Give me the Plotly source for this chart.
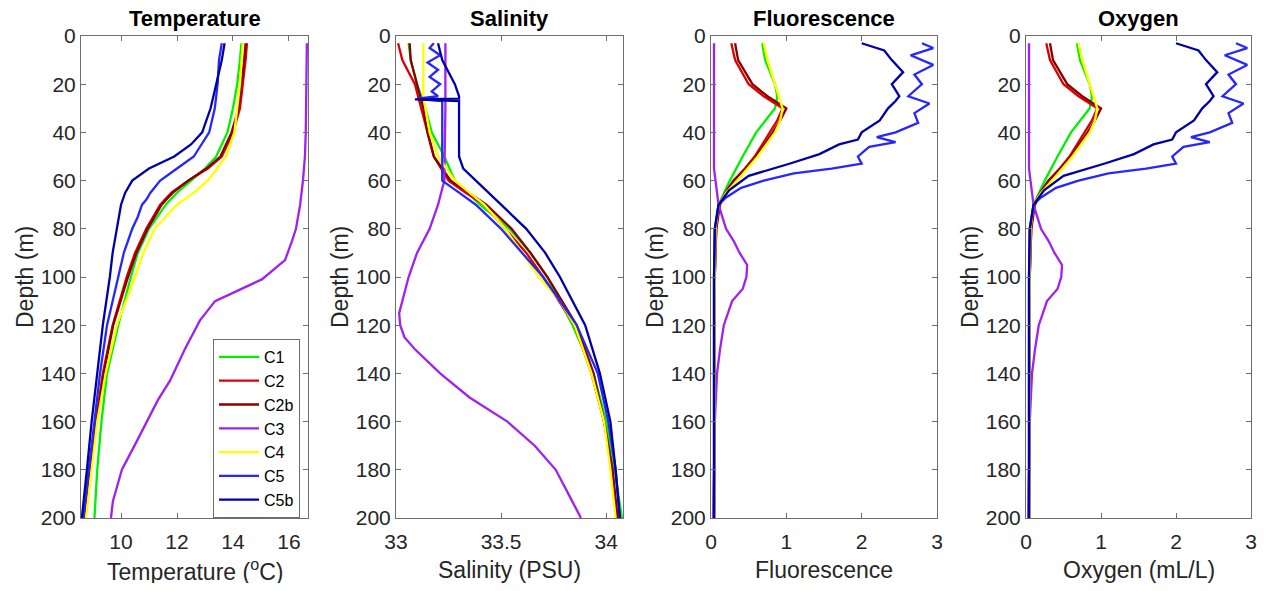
import plotly.graph_objects as go

# ---------------- data ----------------
stations = ["C1", "C2", "C2b", "C3", "C4", "C5", "C5b"]
colors = {"C1": "#00F000", "C2": "#DD0000", "C2b": "#8A0000", "C3": "#A020F0",
          "C4": "#FFFF00", "C5": "#2626FF", "C5b": "#0000A8"}

# Temperature (deg C) profiles: depth list and value list per station
temp_depth = {
    "C1":  [3, 10, 20, 30, 40, 50, 55, 60, 65, 70, 80, 90, 100, 120, 140, 160, 180, 200],
    "C2":  [3, 10, 20, 30, 40, 50, 55, 60, 65, 70, 80, 90, 100, 110, 120, 140, 160, 180, 200],
    "C2b": [3, 10, 20, 30, 40, 50, 55, 60, 65, 70, 80, 90, 100, 110, 120, 140, 160, 180, 200],
    "C3":  [3, 20, 40, 50, 60, 70, 80, 85, 93, 101, 106, 110, 118, 130, 143, 151, 168, 180, 193, 200],
    "C4":  [3, 20, 40, 50, 60, 65, 70, 80, 90, 100, 120, 140, 160, 180, 200],
    "C5":  [3, 10, 20, 30, 40, 50, 55, 60, 65, 68, 70, 75, 80, 90, 100, 120, 140, 160, 180, 200],
    "C5b": [3, 10, 20, 30, 40, 45, 50, 55, 60, 65, 70, 80, 90, 100, 120, 140, 160, 180, 200],
}
temp_vals = {
    "C1":  [14.30, 14.25, 14.15, 14.00, 13.80, 13.40, 13.00, 12.50, 12.00, 11.60, 11.00, 10.60, 10.35, 9.90, 9.50, 9.30, 9.15, 9.05],
    "C2":  [14.50, 14.45, 14.35, 14.25, 14.00, 13.60, 13.10, 12.40, 11.80, 11.40, 10.90, 10.50, 10.20, 9.95, 9.70, 9.35, 9.10, 8.85, 8.65],
    "C2b": [14.45, 14.40, 14.30, 14.20, 13.95, 13.55, 13.05, 12.40, 11.85, 11.45, 10.95, 10.55, 10.25, 9.98, 9.72, 9.38, 9.12, 8.88, 8.68],
    "C3":  [16.64, 16.63, 16.60, 16.57, 16.50, 16.40, 16.25, 16.11, 15.86, 15.03, 14.10, 13.36, 12.82, 12.28, 11.75, 11.32, 10.57, 10.03, 9.71, 9.64],
    "C4":  [14.35, 14.25, 14.05, 13.75, 13.10, 12.60, 12.00, 11.20, 10.80, 10.50, 9.85, 9.45, 9.15, 8.95, 8.75],
    "C5":  [13.60, 13.50, 13.45, 13.35, 13.15, 12.60, 12.00, 11.40, 11.05, 10.90, 10.75, 10.60, 10.40, 10.10, 9.90, 9.50, 9.25, 9.05, 8.85, 8.65],
    "C5b": [13.70, 13.60, 13.40, 13.20, 12.90, 12.50, 11.90, 11.00, 10.40, 10.15, 10.00, 9.85, 9.70, 9.60, 9.35, 9.15, 8.95, 8.78, 8.60],
}

# Salinity (PSU)
sal_depth = {
    "C1":  [3, 10, 20, 30, 40, 50, 60, 70, 80, 90, 100, 120, 130, 140, 160, 180, 200],
    "C2":  [3, 10, 20, 30, 40, 50, 60, 65, 70, 80, 90, 100, 120, 140, 160, 180, 200],
    "C2b": [3, 10, 20, 30, 40, 50, 60, 70, 80, 90, 100, 120, 140, 160, 180, 200],
    "C3":  [3, 30, 60, 70, 80, 90, 100, 110, 115, 120, 125, 130, 140, 150, 160, 170, 180, 190, 200],
    "C4":  [3, 25, 30, 40, 50, 60, 70, 80, 90, 100, 110, 120, 140, 160, 180, 200],
    "C5":  [3, 5, 8, 11, 14, 17, 20, 23, 25, 26, 27, 40, 60, 65, 70, 80, 90, 100, 120, 140, 160, 180, 200],
    "C5b": [3, 10, 20, 25, 26, 26.3, 27, 30, 50, 55, 60, 70, 80, 90, 100, 120, 140, 160, 180, 200],
}
sal_vals = {
    "C1":  [33.06, 33.07, 33.10, 33.14, 33.17, 33.23, 33.28, 33.40, 33.54, 33.64, 33.72, 33.84, 33.89, 33.94, 34.00, 34.04, 34.075],
    "C2":  [33.01, 33.03, 33.09, 33.12, 33.15, 33.18, 33.25, 33.33, 33.42, 33.52, 33.62, 33.70, 33.85, 33.93, 33.99, 34.03, 34.05],
    "C2b": [33.065, 33.07, 33.10, 33.13, 33.15, 33.18, 33.26, 33.43, 33.55, 33.64, 33.72, 33.86, 33.94, 33.99, 34.03, 34.055],
    "C3":  [33.235, 33.235, 33.23, 33.20, 33.16, 33.10, 33.06, 33.03, 33.015, 33.02, 33.04, 33.09, 33.21, 33.35, 33.53, 33.66, 33.76, 33.82, 33.88],
    "C4":  [33.13, 33.13, 33.14, 33.16, 33.20, 33.28, 33.42, 33.52, 33.60, 33.68, 33.78, 33.85, 33.93, 33.99, 34.02, 34.045],
    "C5":  [33.18, 33.16, 33.21, 33.15, 33.20, 33.16, 33.21, 33.17, 33.20, 33.10, 33.22, 33.22, 33.22, 33.30, 33.38, 33.50, 33.60, 33.70, 33.86, 33.96, 34.01, 34.045, 34.065],
    "C5b": [33.20, 33.22, 33.28, 33.30, 33.30, 33.09, 33.30, 33.30, 33.30, 33.32, 33.38, 33.50, 33.62, 33.71, 33.78, 33.90, 33.97, 34.02, 34.045, 34.065],
}

# Fluorescence
fl_depth = {
    "C1":  [3, 10, 20, 25, 30, 35, 40, 50, 60, 70, 80, 100, 200],
    "C2":  [3, 10, 20, 25, 30, 35, 40, 50, 55, 60, 65, 70, 80, 100, 200],
    "C2b": [3, 10, 20, 25, 30, 35, 40, 50, 55, 60, 65, 70, 80, 100, 200],
    "C3":  [3, 55, 60, 70, 80, 85, 90, 95, 100, 105, 110, 120, 130, 140, 160, 200],
    "C4":  [3, 10, 20, 30, 35, 40, 50, 60, 65, 70, 80, 100, 200],
    "C5":  [3, 5, 8, 12, 16, 20, 25, 28, 32, 36, 40, 42, 44, 46, 50, 53, 55, 57, 60, 63, 67, 70, 80, 100, 200],
    "C5b": [3, 6, 10, 15, 20, 25, 27, 30, 35, 40, 43, 45, 49, 53, 58, 64, 70, 80, 100, 200],
}
fl_vals = {
    "C1":  [0.68, 0.72, 0.85, 0.88, 0.85, 0.72, 0.60, 0.42, 0.25, 0.10, 0.06, 0.05, 0.04],
    "C2":  [0.27, 0.32, 0.50, 0.70, 0.95, 0.88, 0.78, 0.58, 0.45, 0.30, 0.20, 0.12, 0.07, 0.05, 0.04],
    "C2b": [0.32, 0.36, 0.55, 0.75, 1.00, 0.92, 0.82, 0.60, 0.46, 0.30, 0.19, 0.11, 0.07, 0.05, 0.04],
    "C3":  [0.04, 0.04, 0.06, 0.10, 0.20, 0.30, 0.38, 0.48, 0.47, 0.42, 0.28, 0.17, 0.12, 0.08, 0.05, 0.03],
    "C4":  [0.70, 0.75, 0.85, 0.95, 0.92, 0.85, 0.62, 0.35, 0.20, 0.10, 0.06, 0.05, 0.04],
    "C5":  [2.80, 2.95, 2.65, 2.95, 2.70, 2.80, 2.62, 2.90, 2.70, 2.75, 2.45, 2.20, 2.45, 2.10, 1.95, 2.00, 1.60, 1.10, 0.70, 0.40, 0.20, 0.10, 0.05, 0.04, 0.04],
    "C5b": [2.00, 2.30, 2.40, 2.55, 2.40, 2.50, 2.45, 2.35, 2.24, 2.00, 1.95, 1.70, 1.44, 1.04, 0.50, 0.24, 0.10, 0.05, 0.04, 0.04],
}

# Oxygen (mL/L) -- the reference panel shows the same profiles
ox_depth = {k: list(v) for k, v in fl_depth.items()}
ox_vals = {k: list(v) for k, v in fl_vals.items()}

panels = [
    ("Temperature", "Temperature (<sup>o</sup>C)", temp_depth, temp_vals, [8.57, 16.68], [10, 12, 14, 16], ["10", "12", "14", "16"]),
    ("Salinity", "Salinity (PSU)", sal_depth, sal_vals, [33.0, 34.08], [33, 33.5, 34], ["33", "33.5", "34"]),
    ("Fluorescence", "Fluorescence", fl_depth, fl_vals, [0, 3], [0, 1, 2, 3], ["0", "1", "2", "3"]),
    ("Oxygen", "Oxygen (mL/L)", ox_depth, ox_vals, [0, 3], [0, 1, 2, 3], ["0", "1", "2", "3"]),
]
depth_ticks = [0, 20, 40, 60, 80, 100, 120, 140, 160, 180, 200]

# ---------------- layout geometry ----------------
# the page adds an 8 px body margin, so positions are given in page pixels minus OFF
OFF = 8
W, H = 1265 - 2 * OFF, 591 - 2 * OFF
x_px = [(81, 308), (396, 623), (711, 937), (1026, 1251)]
y_top, y_bot = 36, 518
FONT = "Liberation Sans, Arial, sans-serif"
TXT = "#262626"
AX = "#6e6e6e"


def px(xp):
    return (xp - OFF) / W


def py(yp):
    return 1 - (yp - OFF) / H


fig = go.Figure()
annotations = []
for i, (title, xlabel, dep, val, xr, xt, xtl) in enumerate(panels):
    n = "" if i == 0 else str(i + 1)
    for s in stations:
        fig.add_trace(go.Scatter(
            x=val[s], y=dep[s], mode="lines", name=s,
            line=dict(color=colors[s], width=2.3),
            xaxis="x" + n, yaxis="y" + n,
            showlegend=(i == 0),
        ))
    dom = [px(x_px[i][0]), px(x_px[i][1])]
    axcommon = dict(showgrid=False, zeroline=False, showline=True, mirror="ticks",
                    linecolor=AX, linewidth=1, ticks="inside", ticklen=5,
                    tickcolor=AX, automargin=False,
                    tickfont=dict(family=FONT, size=21, color=TXT))
    fig.update_layout(**{
        "xaxis" + n: dict(domain=dom, range=xr, tickvals=xt, ticktext=xtl,
                          anchor="y" + n, ticklabelstandoff=5, **axcommon),
        "yaxis" + n: dict(domain=[py(y_bot), py(y_top)], range=[200, 0],
                          tickvals=depth_ticks, anchor="x" + n, **axcommon),
    })
    cx = (dom[0] + dom[1]) / 2
    annotations.append(dict(text="<b>%s</b>" % title, x=cx, y=py(19), xref="paper", yref="paper",
                            xanchor="center", yanchor="middle", showarrow=False,
                            font=dict(family=FONT, size=22, color="#000000")))
    annotations.append(dict(text=xlabel, x=cx, y=py(570), xref="paper", yref="paper",
                            xanchor="center", yanchor="middle", showarrow=False,
                            font=dict(family=FONT, size=23, color=TXT)))
    annotations.append(dict(text="Depth (m)", x=px(x_px[i][0] - 56), y=py(277),
                            xref="paper", yref="paper", xanchor="center", yanchor="middle",
                            textangle=-90, showarrow=False,
                            font=dict(family=FONT, size=23, color=TXT)))

fig.update_layout(
    template="none",
    width=W, height=H,
    margin=dict(l=0, r=0, t=0, b=0, pad=0, autoexpand=False),
    paper_bgcolor="white", plot_bgcolor="white",
    annotations=annotations,
    showlegend=True,
    legend=dict(x=px(213), y=py(339), xanchor="left", yanchor="top",
                bgcolor="white", bordercolor=AX, borderwidth=1,
                font=dict(family=FONT, size=16, color="#000000"),
                tracegroupgap=0, itemwidth=40),
)
fig.write_html("out.html")
